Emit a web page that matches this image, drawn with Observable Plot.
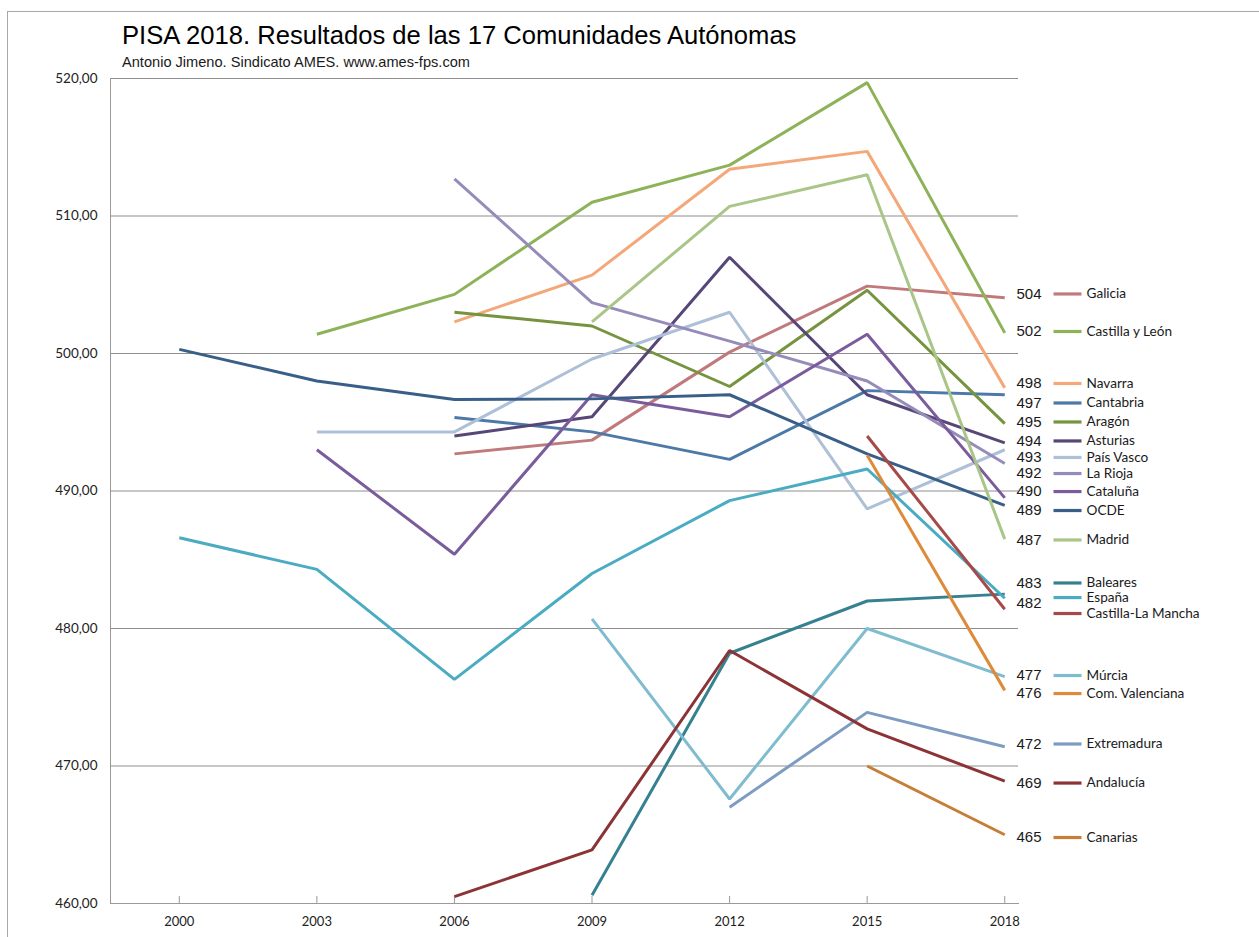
<!DOCTYPE html>
<html>
<head>
<meta charset="utf-8">
<script src="https://cdn.jsdelivr.net/npm/d3@7"></script>
<script src="https://cdn.jsdelivr.net/npm/@observablehq/plot@0.6"></script>
<style>
  html, body { margin: 0; padding: 0; background: #fff; }
  #page { position: relative; width: 1259px; height: 937px; overflow: hidden; background: #fff; }
  #frame { position: absolute; left: 7px; top: 11px; right: -5px; bottom: -5px;
           border-top: 1px solid #a8a8a8; border-left: 1px solid #a8a8a8; pointer-events: none; }
  #head { position: relative; height: 72px; }
  #title { position: absolute; left: 122px; top: 23px; line-height: 1; white-space: nowrap;
           font-family: "Liberation Sans", Arial, sans-serif; font-size: 25.6px; color: #000; }
  #subtitle { position: absolute; left: 122px; top: 55px; line-height: 1; white-space: nowrap;
              font-family: "Liberation Sans", Arial, sans-serif; font-size: 14.6px; color: #1a1a1a; }
  #chart svg { display: block; }
</style>
</head>
<body>
<div id="page">
  <div id="frame"></div>
  <div id="head">
    <div id="title">PISA 2018. Resultados de las 17 Comunidades Autónomas</div>
    <div id="subtitle">Antonio Jimeno. Sindicato AMES. www.ames-fps.com</div>
  </div>
  <div id="chart"></div>
</div>
<script>
// ---- Data ----
const years = [2000, 2003, 2006, 2009, 2012, 2015, 2018];

const galicia      = [null,  null,  492.7, 493.7, 500.1, 504.9, 504.05];
const castillaLeon = [null,  501.4, 504.3, 511.0, 513.7, 519.7, 501.5];
const navarra      = [null,  null,  502.3, 505.7, 513.4, 514.7, 497.5];
const cantabria    = [null,  null,  495.35, 494.3, 492.3, 497.3, 497.0];
const aragon       = [null,  null,  503.0, 502.0, 497.6, 504.6, 494.9];
const asturias     = [null,  null,  494.0, 495.4, 507.0, 497.0, 493.5];
const paisVasco    = [null,  494.3, 494.3, 499.6, 503.0, 488.7, 493.0];
const laRioja      = [null,  null,  512.7, 503.7, 500.9, 498.0, 492.0];
const cataluna     = [null,  493.0, 485.4, 497.0, 495.4, 501.4, 489.5];
const ocde         = [500.3, 498.0, 496.65, 496.7, 497.0, 492.7, 488.95];
const madrid       = [null,  null,  null,  502.3, 510.7, 513.0, 486.5];
const baleares     = [null,  null,  null,  460.6, 478.2, 482.0, 482.5];
const espana       = [486.6, 484.3, 476.3, 484.0, 489.3, 491.6, 482.2];
const castillaLaMancha = [null, null, null, null, null, 494.0, 481.4];
const murcia       = [null,  null,  null,  480.7, 467.6, 480.0, 476.5];
const valenciana   = [null,  null,  null,  null,  null,  492.6, 475.5];
const extremadura  = [null,  null,  null,  null,  467.0, 473.9, 471.4];
const andalucia    = [null,  null,  460.5, 463.9, 478.4, 472.7, 468.9];
const canarias     = [null,  null,  null,  null,  null,  470.0, 465.0];

const seriesNames = ["Galicia", "Castilla y León", "Navarra", "Cantabria", "Aragón", "Asturias",
  "País Vasco", "La Rioja", "Cataluña", "OCDE", "Madrid", "Baleares", "España",
  "Castilla-La Mancha", "Múrcia", "Com. Valenciana", "Extremadura", "Andalucía", "Canarias"];
const seriesValues = [galicia, castillaLeon, navarra, cantabria, aragon, asturias, paisVasco,
  laRioja, cataluna, ocde, madrid, baleares, espana, castillaLaMancha, murcia, valenciana,
  extremadura, andalucia, canarias];
const seriesColors = ["#c07a7c", "#8db257", "#f4a87a", "#4c79a8", "#76943f", "#564777",
  "#aec0d7", "#968cba", "#7a5c9c", "#395f88", "#a9c688", "#35818f", "#4aabc2",
  "#a64a49", "#7fbccf", "#de8a3b", "#7e9bc2", "#8c3335", "#c87d35"];

// legend rows: level on the score axis at which each row sits
const legendLevels = [504.33, 501.6, 497.82, 496.4, 495.02, 493.64, 492.44, 491.27, 489.96,
  488.58, 486.44, 483.31, 482.25, 481.09, 476.58, 475.27, 471.6, 468.76, 464.8];
const numberLabels = ["504", "502", "498", "497", "495", "494", "493", "492", "490", "489",
  "487", "483", "482", "477", "476", "472", "469", "465"];
const numberLevels = [504.33, 501.6, 497.82, 496.4, 495.02, 493.64, 492.44, 491.27, 489.96,
  488.58, 486.44, 483.31, 481.85, 476.58, 475.27, 471.6, 468.76, 464.8];

const yTicks = [460, 470, 480, 490, 500, 510, 520];
const gridTicks = [470, 480, 490, 500, 510, 520];

// ---- Build tables ----
const rows = seriesNames.flatMap((name, s) =>
  years.map((year, i) => ({name, year, score: seriesValues[s][i]})).filter(d => d.score != null));
const legend = seriesNames.map((name, i) => ({name, level: legendLevels[i]}));
const numbers = numberLabels.map((t, i) => ({t, level: numberLevels[i]}));

const hline = { draw(ctx) { ctx.moveTo(-14, 0); ctx.lineTo(14, 0); } };
const commaFmt = d => d3.format(".2f")(d).replace(".", ",");

const W = 1259, H = 865;
const chart = Plot.plot({
  width: W,
  height: H,
  marginLeft: 110,
  marginRight: W - 1018,
  marginTop: 6,
  marginBottom: 34,
  style: { background: "transparent", overflow: "visible" },
  x: { domain: [1998.5, 2018.3] },
  y: { domain: [460, 520] },
  color: { domain: seriesNames, range: seriesColors },
  marks: [
    Plot.ruleY(gridTicks, { stroke: "#8e8e8e", strokeWidth: 1 }),
    Plot.frame({ anchor: "left", stroke: "#9a9a9a" }),
    Plot.frame({ anchor: "bottom", stroke: "#9a9a9a" }),
    Plot.ruleX(years, { x: d => d, y1: 460, y2: 460, insetTop: -7, stroke: "#9a9a9a" }),
    Plot.axisY({ ticks: yTicks, tickFormat: commaFmt, tickSize: 0, tickPadding: 13, label: null,
      fontSize: 13.5, fontFamily: "Lato, 'Open Sans', sans-serif", fill: "#222" }),
    Plot.axisX({ ticks: years, tickFormat: d => String(d), tickSize: 0, tickPadding: 13, label: null,
      fontSize: 13, fontFamily: "Lato, 'Open Sans', sans-serif", fill: "#222" }),
    Plot.line(rows, { x: "year", y: "score", z: "name", stroke: "name", strokeWidth: 3,
      strokeLinejoin: "miter", strokeLinecap: "butt" }),
    Plot.dot(legend, { frameAnchor: "right", y: "level", dx: 49, symbol: hline, fill: "none",
      stroke: "name", strokeWidth: 3.2 }),
    Plot.text(numbers, { frameAnchor: "right", y: "level", text: "t", dx: -2, textAnchor: "start",
      fontSize: 15, fontFamily: "'Liberation Sans', Arial, sans-serif", fill: "#1a1a1a" }),
    Plot.text(legend, { frameAnchor: "right", y: "level", text: "name", dx: 68, textAnchor: "start",
      fontSize: 13.6, fontFamily: "Lato, 'Open Sans', sans-serif", fill: "#1a1a1a" })
  ]
});
document.getElementById("chart").appendChild(chart);
</script>
</body>
</html>
